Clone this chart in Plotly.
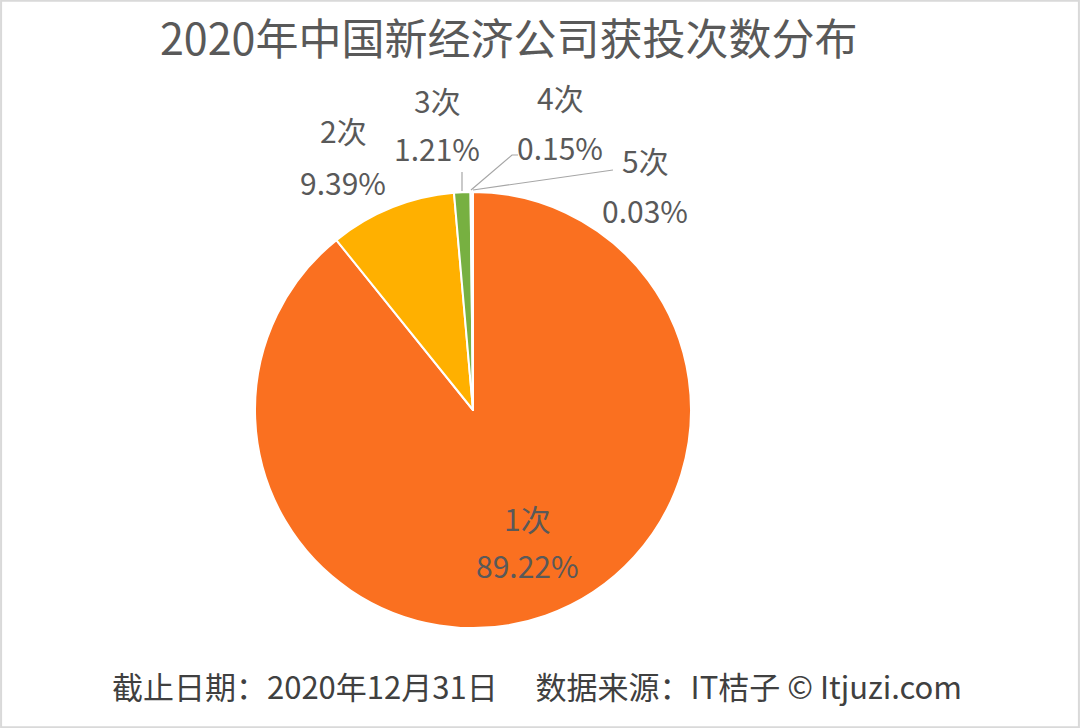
import plotly.graph_objects as go

labels = ["1次", "2次", "3次", "4次", "5次"]
values = [89.22, 9.39, 1.21, 0.15, 0.03]
colors = ["#FA7020", "#FFB000", "#77B041", "#4472C4", "#A5A5A5"]

title = "2020年中国新经济公司获投次数分布"
footer = "截止日期：2020年12月31日　 数据来源：IT桔子 © Itjuzi.com"

W, H = 1080, 728
FONT = "Noto Sans CJK SC"
TXT = "#595959"

# pie geometry (pixels)
cx, cy, r = 473, 410, 218

fig = go.Figure(go.Pie(
    labels=labels, values=values, sort=False, direction="clockwise",
    marker=dict(colors=colors, line=dict(color="white", width=2)),
    textinfo="none", hoverinfo="label+percent",
    domain=dict(x=[(cx - r) / W, (cx + r) / W], y=[1 - (cy + r) / H, 1 - (cy - r) / H]),
    showlegend=False,
))

# label positions (pixels): name line, percent line
label_pos = {
    "1次": (527, 518, 565),
    "2次": (343, 130, 182),
    "3次": (437, 100, 148),
    "4次": (560, 97, 147),
    "5次": (645, 160, 210),
}

annots = []
for lab, v in zip(labels, values):
    x, y1, y2 = label_pos[lab]
    for txt, yy in ((lab, y1), (f"{v:.2f}%", y2)):
        annots.append(dict(x=x / W, y=1 - yy / H, xref="paper", yref="paper",
                           text=txt, showarrow=False,
                           font=dict(family=FONT, size=30, color=TXT),
                           xanchor="center", yanchor="middle"))

annots.append(dict(x=509 / W, y=1 - 36 / H, xref="paper", yref="paper", text=title,
                   showarrow=False, font=dict(family=FONT, size=43, color=TXT),
                   xanchor="center", yanchor="middle"))
annots.append(dict(x=537 / W, y=1 - 685 / H, xref="paper", yref="paper", text=footer,
                   showarrow=False, font=dict(family=FONT, size=31, color="#404040"),
                   xanchor="center", yanchor="middle"))

# leader lines (pixels)
leaders = [
    [(462, 191), (462, 172)],
    [(471, 190), (512, 155), (518, 155)],
    [(473, 190), (613, 170)],
]
shapes = []
for pts in leaders:
    path = "M " + " L ".join(f"{px / W},{1 - py / H}" for px, py in pts)
    shapes.append(dict(type="path", xref="paper", yref="paper", path=path,
                       line=dict(color="#A6A6A6", width=1.2)))
shapes.append(dict(type="rect", xref="paper", yref="paper", x0=0.001, y0=0.001, x1=0.999, y1=0.999,
                   line=dict(color="#D9D9D9", width=2)))

fig.update_layout(width=W, height=H, margin=dict(l=0, r=0, t=0, b=0),
                  paper_bgcolor="white", plot_bgcolor="white",
                  annotations=annots, shapes=shapes)
fig.write_html("out.html", config={"displayModeBar": False},
               post_script="document.body.style.margin='0';document.body.style.overflow='hidden';")
